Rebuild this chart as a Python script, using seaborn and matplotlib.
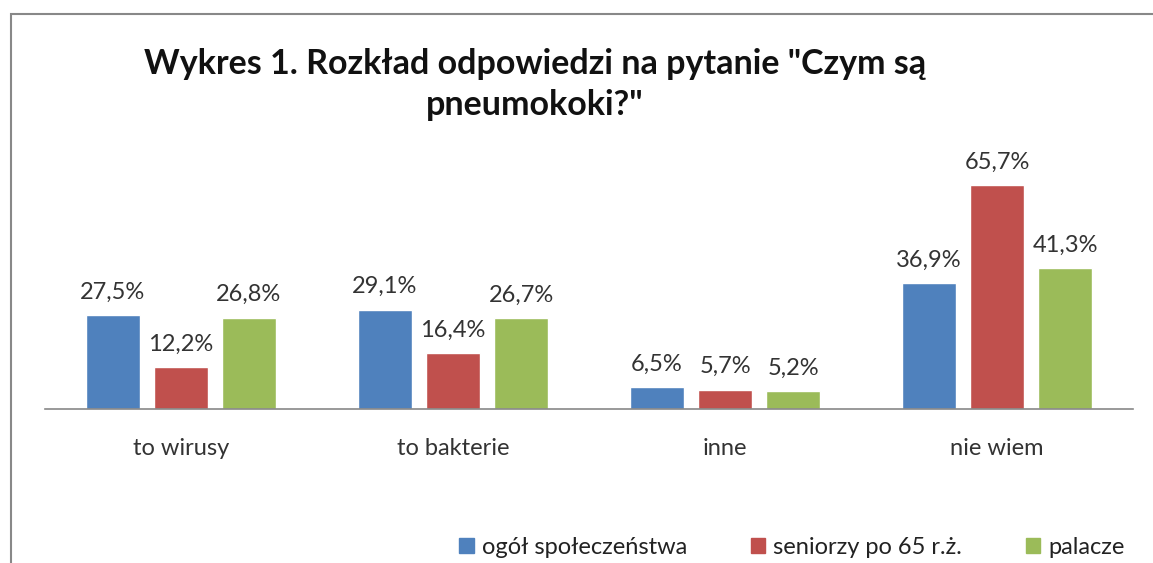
import seaborn as sns
import matplotlib.pyplot as plt
import matplotlib.patches as mpatches
import pandas as pd

# dane z wykresu
categories = ['to wirusy', 'to bakterie', 'inne', 'nie wiem']
groups = ['ogół społeczeństwa', 'seniorzy po 65 r.ż.', 'palacze']
ogol = [27.5, 29.1, 6.5, 36.9]
seniorzy = [12.2, 16.4, 5.7, 65.7]
palacze = [26.8, 26.7, 5.2, 41.3]
colors = ['#4F81BD', '#C0504D', '#9BBB59']

df = pd.DataFrame({
    'kategoria': categories * 3,
    'grupa': [groups[0]] * 4 + [groups[1]] * 4 + [groups[2]] * 4,
    'procent': ogol + seniorzy + palacze,
})

sns.set_style('white')
plt.rcParams['font.family'] = ['Lato', 'DejaVu Sans']

fig = plt.figure(figsize=(11.53, 5.63), dpi=100)
ax = fig.add_axes([0.039, 0.2735, 0.9437, 0.4845])

sns.barplot(data=df, x='kategoria', y='procent', hue='grupa', order=categories,
            hue_order=groups, palette=colors, width=0.75, gap=0.2,
            saturation=1, errorbar=None, ax=ax, legend=False)

for cont in ax.containers:
    labels = [f'{v:.1f}%'.replace('.', ',') for v in cont.datavalues]
    ax.bar_label(cont, labels=labels, padding=9, fontsize=17, color='#333333')

ax.set_ylim(0, 80)
ax.set_xlim(-0.5, 3.5)
ax.set_xlabel('')
ax.set_ylabel('')
ax.set_yticks([])
ax.tick_params(axis='x', length=0, pad=21, labelsize=17, labelcolor='#333333')
for s in ['top', 'left', 'right']:
    ax.spines[s].set_visible(False)
ax.spines['bottom'].set_color('#888888')
ax.spines['bottom'].set_linewidth(1.2)

fig.text(0.464, 0.85, 'Wykres 1. Rozkład odpowiedzi na pytanie "Czym są\npneumokoki?"',
         ha='center', va='center', fontsize=24.5, fontweight='bold', linespacing=1.33,
         color='#111111')

handles = [mpatches.Patch(color=c, label=g) for c, g in zip(colors, groups)]
fig.legend(handles=handles, loc='center', bbox_to_anchor=(0.687, 0.028), ncol=3,
           frameon=False, fontsize=17, handlelength=0.6, handleheight=0.6,
           handletextpad=0.35, columnspacing=2.7, labelcolor='#222222')

# ramka wykresu
fig.patches.append(mpatches.Rectangle((0.0095, -0.1), 1.2, 1.075, transform=fig.transFigure,
                                      fill=False, edgecolor='#888888', linewidth=1.5))

fig.savefig('out.png', dpi=100, facecolor='white')
